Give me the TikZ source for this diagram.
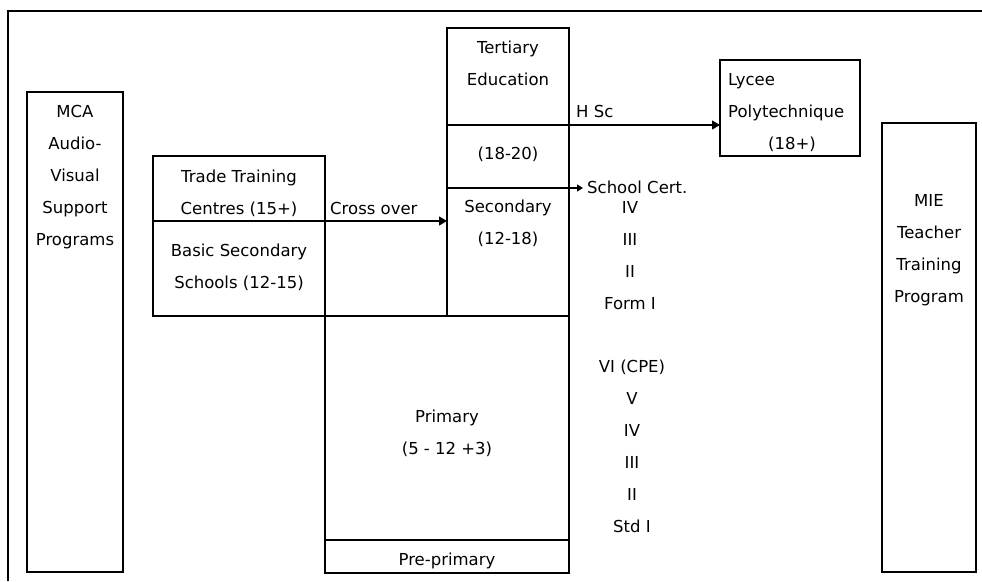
\documentclass[tikz,border=0pt]{standalone}
\usepackage{fontspec}
\setmainfont{DejaVu Sans}
\usetikzlibrary{arrows.meta}
\begin{document}
\begin{tikzpicture}[x=1pt,y=-1pt,
  box/.style={draw, line width=1.3pt, inner sep=0pt, outer sep=0pt, rectangle},
  lbl/.style={font=\fontsize{16.5}{32}\selectfont, inner sep=0pt, align=center, anchor=base},
  lbll/.style={font=\fontsize{16.5}{32}\selectfont, inner sep=0pt, align=left, anchor=base west},
  arr/.style={line width=1.3pt, -{Triangle[length=8pt,width=9pt]}},
  sarr/.style={line width=1.3pt, -{Triangle[length=6pt,width=7pt]}}]
\useasboundingbox (0,0) rectangle (982,581);
% outer frame (top and left edges)
\coordinate (fb) at (8,581);
\coordinate (fc) at (8,11);
\coordinate (fr) at (982,11);
\draw[line width=2pt] (fb) -- (fc) -- (fr);
% boxes
\node[box, minimum width=96pt, minimum height=480pt] (mca) at (75,332) {};
\node[box, minimum width=172pt, minimum height=65pt] (trade) at (239,188.5) {};
\node[box, minimum width=172pt, minimum height=95pt] (basic) at (239,268.5) {};
\node[box, minimum width=122pt, minimum height=97pt] (tert) at (508,76.5) {};
\node[box, minimum width=122pt, minimum height=63pt] (t1820) at (508,156.5) {};
\node[box, minimum width=122pt, minimum height=128pt] (sec) at (508,252) {};
\node[box, minimum width=244pt, minimum height=224pt] (prim) at (447,428) {};
\node[box, minimum width=244pt, minimum height=33pt] (pre) at (447,556.5) {};
\node[box, minimum width=140pt, minimum height=96pt] (lycee) at (790,108) {};
\node[box, minimum width=94pt, minimum height=449pt] (mie) at (929,347.5) {};
% texts (base anchor = baseline of the last line)
\node[lbl] (mcat) at (75,245) {MCA\\Audio-\\Visual\\Support\\Programs};
\node[lbl] (tradet) at (239,214) {Trade Training\\Centres (15+)};
\node[lbl] (basict) at (239,288) {Basic Secondary\\Schools (12-15)};
\node[lbl] (tertt) at (508,85) {Tertiary\\Education};
\node[lbl] (t1820t) at (508,159) {(18-20)};
\node[lbl] (sect) at (508,244) {Secondary\\(12-18)};
\node[lbl] (primt) at (447,454) {Primary\\(5 - 12 +3)};
\node[lbl] (pret) at (447,565) {Pre-primary};
\node[lbll] (lycet) at (728,117) {Lycee\\Polytechnique};
\node[lbl] (lyceage) at (792,149) {(18+)};
\node[lbl] (miet) at (929,302) {MIE\\Teacher\\Training\\Program};
\node[lbll] (crosst) at (330,214) {Cross over};
\node[lbll] (hsct) at (576,117) {H Sc};
\node[lbll] (certt) at (587,193) {School Cert.};
\node[lbl] (forms) at (630,309) {IV\\III\\II\\Form I};
\node[lbl] (stds) at (632,532) {VI (CPE)\\V\\IV\\III\\II\\Std I};
% connectors
\draw[arr] (trade.south east) -- (trade.south east -| sec.west);
\draw[arr] (t1820.north east) -- (t1820.north east -| lycee.west);
\coordinate (certend) at (583,188);
\draw[sarr] (sec.north east) -- (certend);
\end{tikzpicture}
\end{document}
